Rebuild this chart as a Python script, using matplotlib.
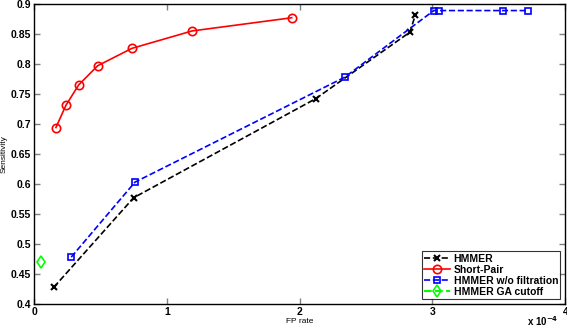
import matplotlib.pyplot as plt

# values (FP rate in units of 1e-4)
hmmer_fp = [0.15, 0.75, 2.12, 2.83, 2.87]
hmmer_sens = [0.428, 0.577, 0.742, 0.853, 0.881]

shortpair_fp = [0.165, 0.24, 0.336, 0.479, 0.737, 1.19, 1.94]
shortpair_sens = [0.694, 0.731, 0.765, 0.797, 0.826, 0.855, 0.877]

nofilt_fp = [0.28, 0.76, 2.34, 3.01, 3.05, 3.53, 3.72]
nofilt_sens = [0.478, 0.603, 0.778, 0.889, 0.889, 0.889, 0.889]

ga_fp = [0.05]
ga_sens = [0.47]

xticks = [0, 1, 2, 3, 4]
yticks = [0.4, 0.45, 0.5, 0.55, 0.6, 0.65, 0.7, 0.75, 0.8, 0.85, 0.9]
ytick_labels = ['0.4', '0.45', '0.5', '0.55', '0.6', '0.65', '0.7', '0.75', '0.8', '0.85', '0.9']

plt.rcParams['font.family'] = ['Liberation Sans', 'DejaVu Sans']
plt.rcParams['font.weight'] = 'bold'
plt.rcParams['font.size'] = 7.5

fig = plt.figure(figsize=(5.67, 3.3), dpi=100)
ax = fig.add_axes([0.06, 0.079, 0.937, 0.909])

ax.plot(hmmer_fp, hmmer_sens, 'k--x', lw=1.2, ms=5, mew=1.5, label='HMMER')
ax.plot(shortpair_fp, shortpair_sens, 'r-o', lw=1.2, ms=6, mew=1.2,
        mfc='none', label='Short-Pair')
ax.plot(nofilt_fp, nofilt_sens, 'b--s', lw=1.2, ms=5, mew=1.2,
        mfc='none', label='HMMER w/o filtration')
ax.plot(ga_fp, ga_sens, 'd', color='#00ff00', ls='--', ms=6, mew=1.2,
        mfc='none', label='HMMER GA cutoff')

ax.set_xlim(0, 4)
ax.set_ylim(0.4, 0.9)
ax.set_xticks(xticks, [str(t) for t in xticks])
ax.set_yticks(yticks, ytick_labels)
ax.tick_params(direction='in', top=True, right=True, length=4, width=1, color='#808080', pad=2)
for s in ax.spines.values():
    s.set_linewidth(1)

ax.set_xlabel('FP rate', fontsize=6, labelpad=1)
ax.set_ylabel('Sensitivity', fontsize=6, labelpad=2)
fig.text(0.985, 0.005, r'x 10$^{-4}$', ha='right', va='bottom', fontsize=7, fontweight='bold')

leg = ax.legend(loc='lower right', fontsize=7.5, frameon=True, fancybox=False, borderpad=0.2,
                labelspacing=0.1, handlelength=2.5, handletextpad=0.3, borderaxespad=0.5)
leg.get_frame().set_edgecolor('black')
leg.get_frame().set_linewidth(0.8)

plt.savefig('out.png', dpi=100)
